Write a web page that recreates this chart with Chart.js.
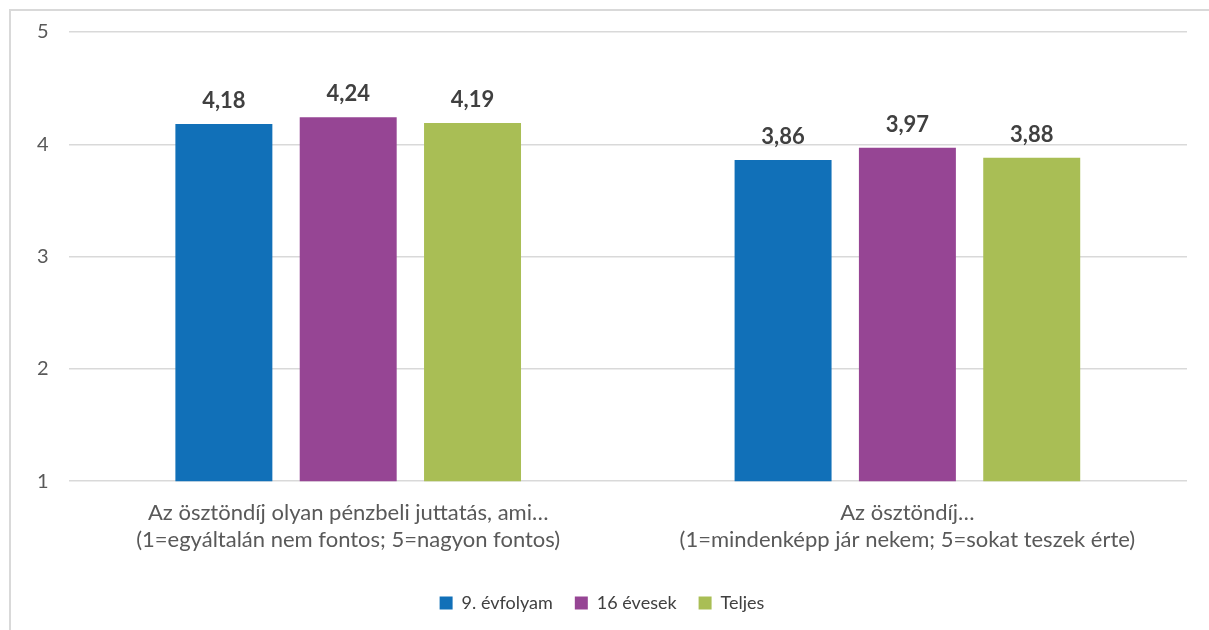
<!DOCTYPE html>
<html>
<head>
<meta charset="utf-8">
<script src="https://cdn.jsdelivr.net/npm/chart.js@4.4.0/dist/chart.umd.min.js"></script>
<style>
    html, body { margin: 0; padding: 0; background: #fff; }
    body { width: 1209px; height: 630px; position: relative; overflow: hidden; }
    .frame {
        position: absolute; left: 9px; top: 9px; width: 1300px; height: 700px;
        border-left: 2px solid #d9d9d9; border-top: 2px solid #d9d9d9;
    }
    .wrap { position: absolute; left: 0; top: 0; width: 1209px; height: 630px; }
</style>
</head>
<body>
<div class="frame"></div>
<div class="wrap"><canvas id="chart"></canvas></div>
<script>
const categories = [
    ['Az ösztöndíj olyan pénzbeli juttatás, ami…', '(1=egyáltalán nem fontos; 5=nagyon fontos)'],
    ['Az ösztöndíj…', '(1=mindenképp jár nekem; 5=sokat teszek érte)']
];
const seriesNames = ['9. évfolyam', '16 évesek', 'Teljes'];
const evfolyam9 = [4.18, 3.86];
const evesek16 = [4.24, 3.97];
const teljes = [4.19, 3.88];
const yTicks = [1, 2, 3, 4, 5];

const colors = ['#1170b8', '#964594', '#a9be55'];
const fontFamily = "Lato, 'Open Sans', sans-serif";

function fmt(v) {
    return v.toFixed(2).replace('.', ',');
}

const valueLabels = {
    id: 'valueLabels',
    afterDatasetsDraw(chart) {
        const ctx = chart.ctx;
        ctx.save();
        ctx.font = 'bold 22px ' + fontFamily;
        ctx.fillStyle = '#404040';
        ctx.textAlign = 'center';
        ctx.textBaseline = 'alphabetic';
        chart.data.datasets.forEach((ds, i) => {
            chart.getDatasetMeta(i).data.forEach((bar, j) => {
                ctx.fillText(fmt(ds.data[j]), bar.x, bar.y - 16);
            });
        });
        ctx.restore();
    }
};

new Chart(document.getElementById('chart'), {
    type: 'bar',
    data: {
        labels: categories,
        datasets: [
            { label: seriesNames[0], data: evfolyam9, backgroundColor: colors[0] },
            { label: seriesNames[1], data: evesek16, backgroundColor: colors[1] },
            { label: seriesNames[2], data: teljes, backgroundColor: colors[2] }
        ]
    },
    options: {
        responsive: true,
        maintainAspectRatio: false,
        animation: false,
        categoryPercentage: 0.667,
        barPercentage: 0.78,
        layout: { padding: { left: 17, right: 22, top: 30, bottom: 8 } },
        plugins: {
            legend: {
                position: 'bottom',
                labels: {
                    boxWidth: 13,
                    boxHeight: 13,
                    padding: 22,
                    color: '#404040',
                    font: { family: fontFamily, size: 18 }
                }
            },
            tooltip: { enabled: false }
        },
        scales: {
            y: {
                min: 1,
                max: 5,
                afterBuildTicks(axis) {
                    axis.ticks = yTicks.map(v => ({ value: v }));
                },
                border: { display: false },
                grid: { color: '#d9d9d9', lineWidth: 1.5, drawTicks: false },
                ticks: {
                    padding: 20,
                    color: '#595959',
                    font: { family: fontFamily, size: 20 }
                }
            },
            x: {
                border: { display: false },
                grid: { display: false, drawTicks: false },
                ticks: {
                    padding: 19,
                    color: '#595959',
                    font: { family: fontFamily, size: 22, lineHeight: 1.2 }
                }
            }
        }
    },
    plugins: [valueLabels]
});
</script>
</body>
</html>
